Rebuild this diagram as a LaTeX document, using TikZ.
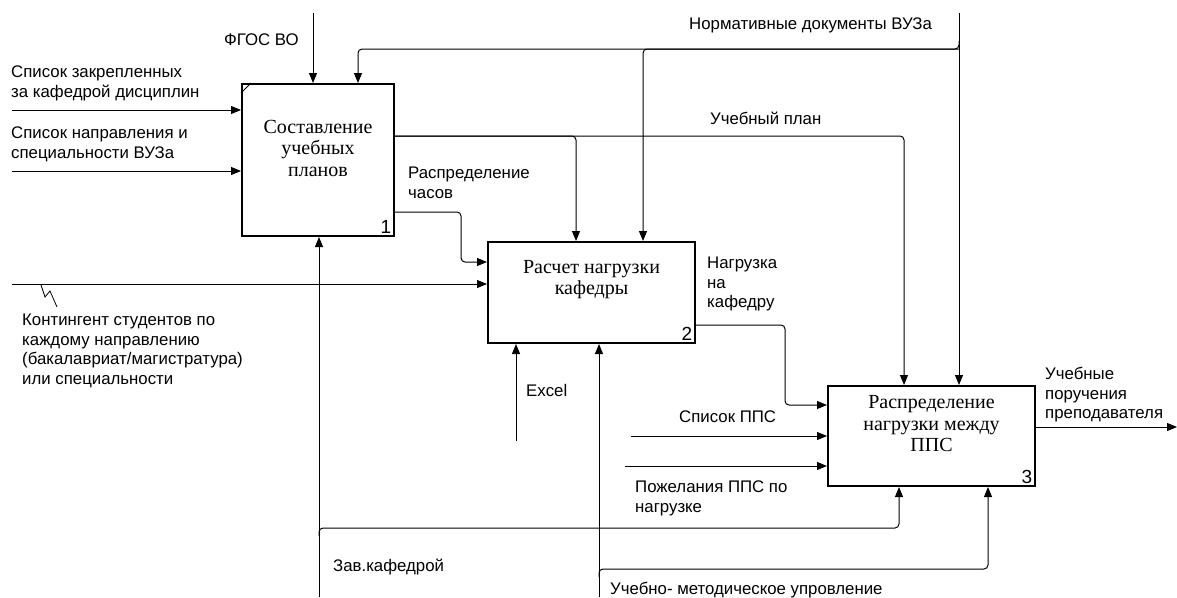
\documentclass[tikz,border=0pt]{standalone}
\usepackage{fontspec}
\setmainfont{Liberation Serif}
\setsansfont{Liberation Sans}
\usetikzlibrary{arrows.meta}
\begin{document}
\begin{tikzpicture}[x=1pt,y=-1pt,
    >={Triangle[length=10pt,width=8pt]},
    arr/.style={->,line width=1pt,rounded corners=4pt},
    procbox/.style={draw,line width=2pt,inner sep=0pt},
    boxtxt/.style={align=center,font=\rmfamily\fontsize{20}{21.5}\selectfont},
    boxnum/.style={anchor=south east,inner sep=3.5pt,font=\sffamily\fontsize{19}{19}\selectfont},
    lbl/.style={anchor=north west,align=left,inner sep=0pt,
        font=\sffamily\fontsize{16.8}{19.5}\selectfont}]
    \useasboundingbox (0,0) rectangle (1177,597);
    % functions
    \node[procbox,minimum width=152pt,minimum height=152pt] (b1) at (318,160) {};
    \node[procbox,minimum width=207pt,minimum height=101pt] (b2) at (591.5,292.5) {};
    \node[procbox,minimum width=207pt,minimum height=100pt] (b3) at (931.5,436) {};
    \node[boxtxt] (t1) at ([yshift=12pt]b1.center) {Составление\\учебных\\планов};
    \node[boxtxt] (t2) at ([yshift=13pt]b2.center) {Расчет нагрузки\\кафедры};
    \node[boxtxt] (t3) at ([yshift=12pt]b3.center) {Распределение\\нагрузки между\\ППС};
    \foreach \b/\n in {b1/1,b2/2,b3/3}
        \node[boxnum] (n\n) at (\b.south east) {\n};
    \draw[line width=1pt] ([yshift=-10pt]b1.north west) -- ([xshift=10pt]b1.north west);
    % free ends
    \coordinate (fgos) at (313,13);
    \coordinate (norm) at (959,13);
    \coordinate (normbus) at (959,49);
    \coordinate (inlist) at (12,110);
    \coordinate (inspec) at (12,171);
    \coordinate (incont) at (12,284);
    \coordinate (excel) at (516,441);
    \coordinate (inpps) at (631,436);
    \coordinate (inwish) at (625,466);
    \coordinate (zav) at (319,597);
    \coordinate (zavbus) at (319,528);
    \coordinate (umu) at (599,597);
    \coordinate (umubus) at (599,569);
    \coordinate (out) at (1177,427);
    % inputs and outputs
    \draw[arr] (inlist) -- (inlist -| b1.west);
    \draw[arr] (inspec) -- (inspec -| b1.west);
    \draw[arr] (incont) -- (incont -| b2.west);
    \draw[arr] (inpps) -- (inpps -| b3.west);
    \draw[arr] (inwish) -- (inwish -| b3.west);
    \draw[arr] (b1.east |- 0,212) -| (461,262) -- (b2.west |- 0,262);
    \draw[arr] (b2.east |- 0,325) -| (785,405) -- (b3.west |- 0,405);
    \draw[arr] (b3.east |- out) -- (out);
    % controls
    \draw[arr] (fgos) -- (fgos |- b1.north);
    \draw[arr] (norm) -- (norm |- b3.north);
    \draw[arr] (norm |- 0,41) |- (normbus -| 358,0) -- (b1.north -| 358,0);
    \draw[arr] (normbus) -| (b2.north -| 643,0);
    \draw[arr] (b1.east |- 0,136) -| (b3.north -| 904,0);
    \draw[arr] (b1.east |- 0,136) -| (b2.north -| 576,0);
    % mechanisms
    \draw[arr] (excel) -- (excel |- b2.south);
    \draw[arr] (zav) -- (zav |- b1.south);
    \draw[arr] ([yshift=-8pt]zavbus) |- (zavbus -| 899,0) -- (b3.south -| 899,0);
    \draw[arr] (umu) -- (umu |- b2.south);
    \draw[arr] ([yshift=-8pt]umubus) |- (umubus -| 988,0) -- (b3.south -| 988,0);
    % squiggle
    \draw[line width=0.8pt] (41,285) -- (45,297) -- (50,291) -- (57,307);
    % labels
    \node[lbl] (l-fgos) at (224,34) {ФГОС ВО};
    \node[lbl] (l-list) at (11,66) {Список закрепленных\\за кафедрой дисциплин};
    \node[lbl] (l-spec) at (11,127) {Список направления и\\специальности ВУЗа};
    \node[lbl] (l-norm) at (689,18) {Нормативные документы ВУЗа};
    \node[lbl] (l-plan) at (710,112) {Учебный план};
    \node[lbl] (l-hours) at (408,167) {Распределение\\часов};
    \node[lbl] (l-cont) at (22,314) {Контингент студентов по\\каждому направлению\\(бакалавриат/магистратура)\\или специальности};
    \node[lbl] (l-load) at (707,257) {Нагрузка\\на\\кафедру};
    \node[lbl] (l-excel) at (526,384) {Excel};
    \node[lbl] (l-pps) at (679,411) {Список ППС};
    \node[lbl] (l-wish) at (635,481) {Пожелания ППС по\\нагрузке};
    \node[lbl] (l-zav) at (333,559) {Зав.кафедрой};
    \node[lbl] (l-umu) at (610,582) {Учебно- методическое упровление};
    \node[lbl] (l-out) at (1045,367) {Учебные\\поручения\\преподавателя};
\end{tikzpicture}
\end{document}
